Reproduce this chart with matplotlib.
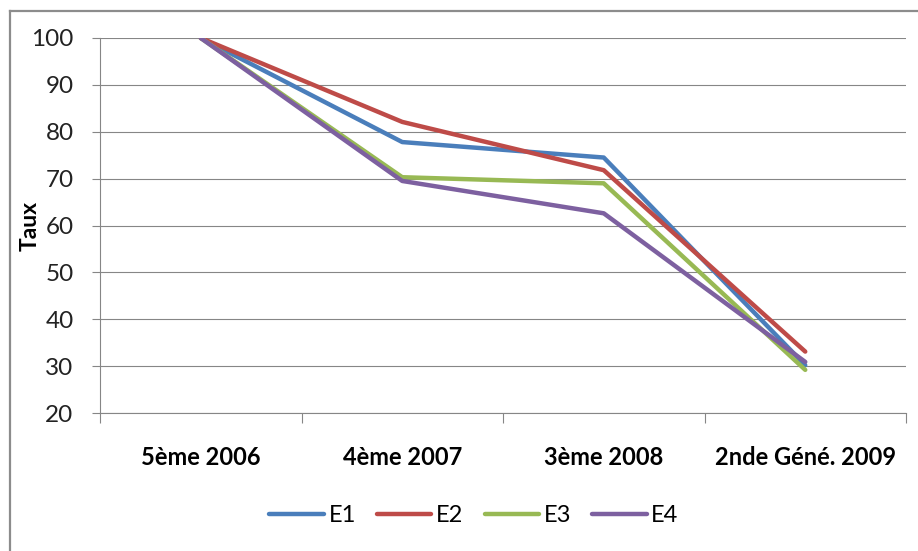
import matplotlib.pyplot as plt
from matplotlib.lines import Line2D

# Série de taux par niveau/année
categories = ['5ème 2006', '4ème 2007', '3ème 2008', '2nde Géné. 2009']
e1 = [100, 77.8, 74.5, 30.2]
e2 = [100, 82.1, 71.8, 33.1]
e3 = [100, 70.3, 69.0, 29.2]
e4 = [100, 69.5, 62.6, 30.9]
series = {'E1': e1, 'E2': e2, 'E3': e3, 'E4': e4}
colors = {'E1': '#4A7EBB', 'E2': '#BE4B48', 'E3': '#98B954', 'E4': '#7D60A0'}

plt.rcParams['font.family'] = ['Lato', 'DejaVu Sans']

W, H = 918, 551
fig = plt.figure(figsize=(W / 100, H / 100), dpi=100)
ax = fig.add_axes([100 / W, 1 - 413 / H, 806 / W, 375 / H])

x = [i + 0.5 for i in range(len(categories))]
for name, vals in series.items():
    ax.plot(x, vals, color=colors[name], linewidth=3.2, label=name,
            solid_joinstyle='round', solid_capstyle='round', zorder=3)

ax.set_xlim(0, len(categories))
ax.set_ylim(20, 100)
ax.set_yticks(range(20, 101, 10))
ax.tick_params(axis='y', labelsize=17.5, length=6, width=0.8, color='#868686',
               pad=13, labelcolor='#222222')
ax.grid(axis='y', color='#868686', linewidth=0.8)
ax.set_axisbelow(True)

# séparateurs de catégories en graduations majeures, libellés en mineures
ax.set_xticks(range(len(categories) + 1))
ax.set_xticklabels([])
ax.set_xticks(x, minor=True)
ax.set_xticklabels(categories, minor=True, fontsize=17, fontweight='bold')
ax.tick_params(axis='x', which='major', length=7, width=0.8, color='#868686')
ax.tick_params(axis='x', which='minor', length=0, pad=24)

for side in ['top', 'right']:
    ax.spines[side].set_visible(False)
for side in ['left', 'bottom']:
    ax.spines[side].set_color('#868686')
    ax.spines[side].set_linewidth(0.8)

ax.set_ylabel('Taux', fontsize=16.5, fontweight='bold')
ax.yaxis.set_label_coords((41 - 100) / 806, 0.5)

fig.legend(loc='center', bbox_to_anchor=(474 / W, 1 - 516 / H), ncol=4,
           frameon=False, fontsize=17, handlelength=2.3, handletextpad=0.2,
           columnspacing=0.9, borderpad=0, borderaxespad=0)

# cadre du graphique (bords haut et gauche)
fig.add_artist(Line2D([10 / W, 10 / W], [0, 1 - 11 / H], transform=fig.transFigure,
                      color='#8C8C8C', linewidth=1.6))
fig.add_artist(Line2D([10 / W, 1], [1 - 11 / H, 1 - 11 / H], transform=fig.transFigure,
                      color='#8C8C8C', linewidth=1.6))

fig.savefig('out.png', dpi=100)
